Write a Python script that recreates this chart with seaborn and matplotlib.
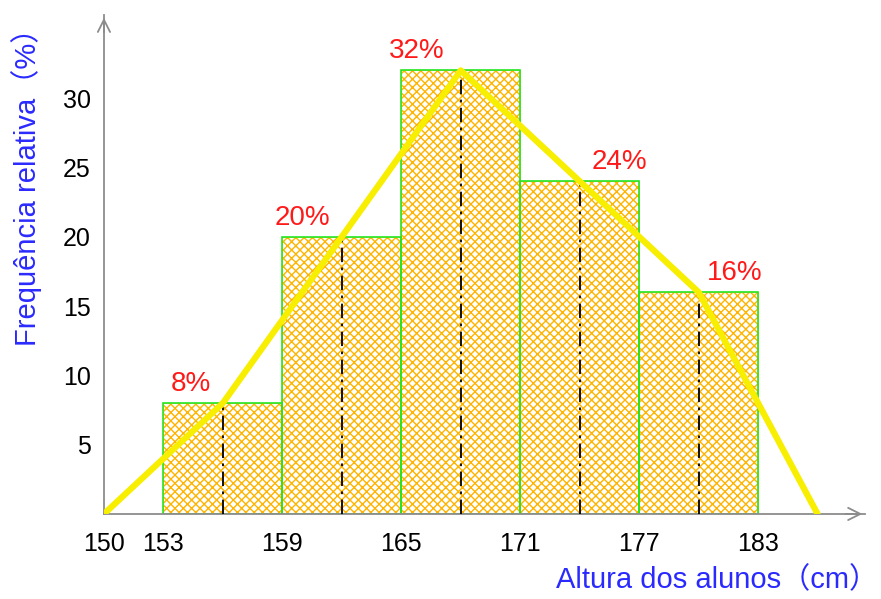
import matplotlib
matplotlib.use("Agg")
import matplotlib.pyplot as plt
import seaborn as sns

# dados: alturas dos alunos (classes de 6 cm) e frequência relativa (%)
mids = [156, 162, 168, 174, 180]
freq = [8, 20, 32, 24, 16]
pct_labels = ["8%", "20%", "32%", "24%", "16%"]
label_x = [154.4, 160.0, 165.8, 176.0, 181.8]
# polígono de frequências
poly_x = [150, 156, 162, 168, 174, 180, 186]
poly_y = [0, 8, 20, 32, 24, 16, 0]
x_ticks = [150, 153, 159, 165, 171, 177, 183]
y_ticks = [5, 10, 15, 20, 25, 30]

sns.set_style("white")
plt.rcParams["font.family"] = ["Liberation Sans", "Noto Sans CJK SC"]
plt.rcParams["hatch.linewidth"] = 1.0

orange = "#ffb400"
green = "#22e622"
gray = "#8c8c8c"
blue = "#2a2aff"

fig = plt.figure(figsize=(8.81, 5.99), dpi=100)
ax = fig.add_axes([0.118, 0.142, 0.864, 0.833])

# barras hachuradas
sns.barplot(x=mids, y=freq, native_scale=True, orient="x", width=1,
            color="white", errorbar=None, ax=ax)
for p in ax.patches:
    p.set_facecolor("white")
    p.set_edgecolor(orange)
    p.set_hatch("xxxx")
    p.set_linewidth(0.5)
n = len(ax.patches)
sns.barplot(x=mids, y=freq, native_scale=True, orient="x", width=1,
            fill=False, color=green, errorbar=None, ax=ax)
for p in ax.patches[n:]:
    p.set_edgecolor(green)
    p.set_linewidth(1.2)

# linhas tracejadas nos pontos médios
ax.vlines(mids, 0, freq, colors="black", linestyles=(0, (8, 3, 1.5, 3)), lw=1.3, zorder=3)

# polígono de frequências
sns.lineplot(x=poly_x, y=poly_y, color="#f7ee00", lw=4.5, ax=ax, zorder=5)

for lx, f, lab in zip(label_x, freq, pct_labels):
    ax.text(lx, f + 0.45, lab, color="#ff1a1a", fontsize=20, ha="center", va="bottom", zorder=6)

ax.set_xlim(150, 188.4)
ax.set_ylim(0, 36)
ax.set_xticks(x_ticks)
ax.set_yticks(y_ticks)
ax.tick_params(axis="x", direction="out", length=6, width=1.2, color=gray, pad=7,
               labelsize=18, labelcolor="black")
ax.tick_params(axis="y", direction="inout", length=9, width=1.2, color=gray, pad=5,
               labelsize=18, labelcolor="black")
for s in ["top", "right"]:
    ax.spines[s].set_visible(False)
for s in ["left", "bottom"]:
    ax.spines[s].set_color(gray)
    ax.spines[s].set_linewidth(1.3)
ax.set_xlabel("")
ax.set_ylabel("")

# setas dos eixos
arrow = dict(arrowstyle="->", color=gray, lw=1.3, mutation_scale=22)
ax.annotate("", xy=(1.0, 0), xytext=(0.97, 0), xycoords="axes fraction", arrowprops=arrow)
ax.annotate("", xy=(0, 1.0), xytext=(0, 0.96), xycoords="axes fraction", arrowprops=arrow)

fig.text(0.03, 0.978, "Frequência relativa（%）", rotation=90, color=blue,
         fontsize=21, ha="center", va="top")
fig.text(0.997, 0.032, "Altura dos alunos（cm）", color=blue,
         fontsize=21, ha="right", va="center")

fig.savefig("out.png", dpi=100)
